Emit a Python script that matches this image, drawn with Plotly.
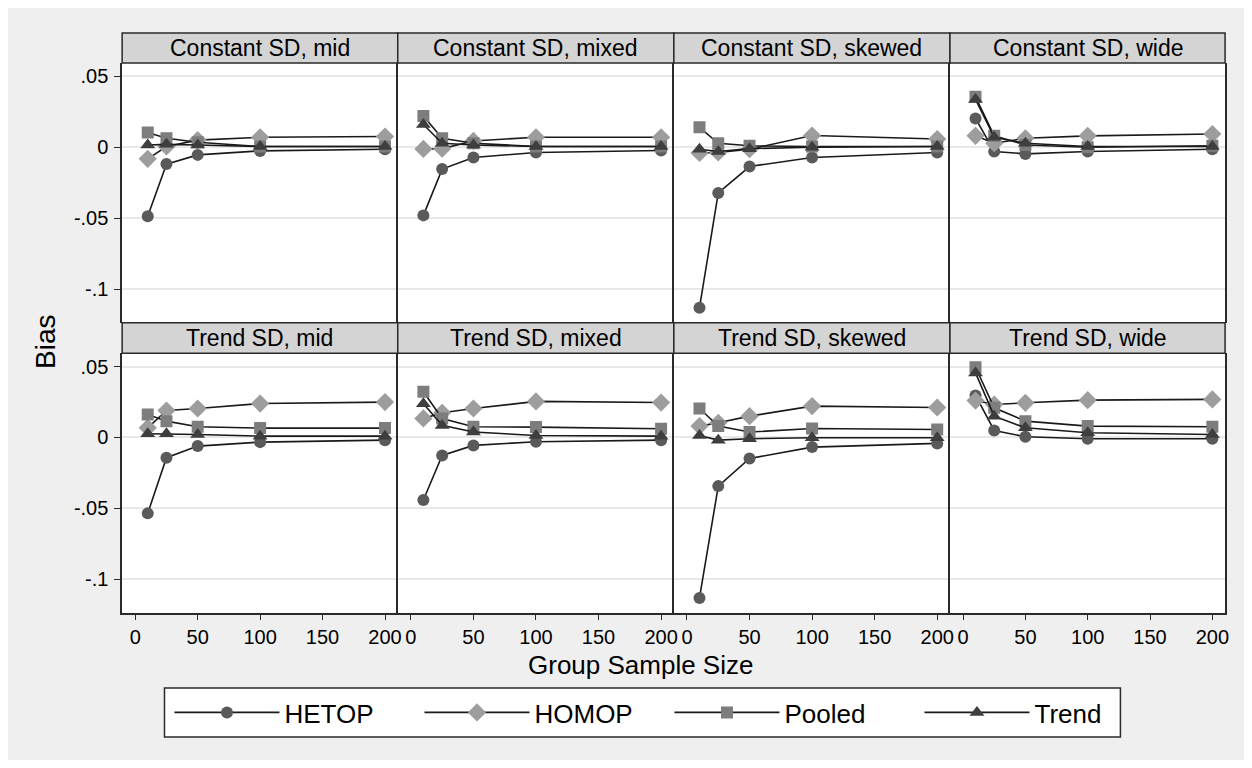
import plotly.graph_objects as go

# figure is placed by the browser at an 8 px page offset
OFF = 8
W, H = 1244, 752

# ---------------- data ----------------
ns = [10, 25, 50, 100, 200]
panels = ["Constant SD, mid", "Constant SD, mixed", "Constant SD, skewed", "Constant SD, wide",
          "Trend SD, mid", "Trend SD, mixed", "Trend SD, skewed", "Trend SD, wide"]
methods = ["HETOP", "HOMOP", "Pooled", "Trend"]

# one row per panel (same order as `panels`), one value per group sample size
hetop = [
    [-0.0486, -0.0119, -0.0054, -0.0026, -0.0014],
    [-0.0480, -0.0154, -0.0072, -0.0037, -0.0023],
    [-0.1130, -0.0322, -0.0136, -0.0072, -0.0037],
    [0.0203, -0.0030, -0.0047, -0.0030, -0.0014],
    [-0.0535, -0.0143, -0.0061, -0.0033, -0.0019],
    [-0.0441, -0.0127, -0.0056, -0.0030, -0.0019],
    [-0.1131, -0.0343, -0.0148, -0.0068, -0.0042],
    [0.0296, 0.0049, 0.0005, -0.0009, -0.0009],
]
homop = [
    [-0.0082, 0.0005, 0.0050, 0.0070, 0.0075],
    [-0.0012, -0.0010, 0.0044, 0.0070, 0.0070],
    [-0.0040, -0.0037, -0.0014, 0.0082, 0.0058],
    [0.0080, 0.0028, 0.0063, 0.0080, 0.0093],
    [0.0068, 0.0190, 0.0204, 0.0239, 0.0249],
    [0.0134, 0.0174, 0.0204, 0.0254, 0.0246],
    [0.0080, 0.0103, 0.0150, 0.0221, 0.0211],
    [0.0260, 0.0232, 0.0244, 0.0263, 0.0268],
]
pooled = [
    [0.0103, 0.0063, 0.0035, 0.0005, 0.0005],
    [0.0220, 0.0063, 0.0028, 0.0005, 0.0005],
    [0.0140, 0.0028, 0.0010, 0.0005, 0.0005],
    [0.0355, 0.0080, 0.0016, 0.0000, 0.0010],
    [0.0162, 0.0115, 0.0075, 0.0066, 0.0066],
    [0.0322, 0.0134, 0.0075, 0.0073, 0.0061],
    [0.0204, 0.0080, 0.0038, 0.0063, 0.0056],
    [0.0495, 0.0209, 0.0115, 0.0080, 0.0075],
]
trend = [
    [0.0016, 0.0020, 0.0016, 0.0005, 0.0005],
    [0.0160, 0.0028, 0.0016, 0.0005, 0.0005],
    [-0.0014, -0.0030, -0.0010, 0.0000, 0.0005],
    [0.0336, 0.0070, 0.0028, 0.0005, 0.0005],
    [0.0026, 0.0026, 0.0021, 0.0009, 0.0009],
    [0.0237, 0.0085, 0.0038, 0.0014, 0.0009],
    [0.0014, -0.0019, -0.0009, -0.0002, -0.0002],
    [0.0455, 0.0150, 0.0068, 0.0033, 0.0021],
]

xticks = [0, 50, 100, 150, 200]
yticks = [-0.1, -0.05, 0, 0.05]
yticktext = ["-.1", "-.05", "0", ".05"]

# ---------------- styles ----------------
series = [
    (methods[0], hetop, "circle", 12, "#5a5a5a"),
    (methods[1], homop, "diamond", 14, "#9d9d9d"),
    (methods[2], pooled, "square", 12, "#7d7d7d"),
    (methods[3], trend, "triangle-up", 13, "#3e3e3e"),
]
FONT = "Liberation Sans, Arial, Helvetica, sans-serif"
LINE = "#1a1a1a"
BORDER = "#2a2a2a"


def px_x(p):
    return (p - OFF) / W


def px_y(p):
    return 1 - (p - OFF) / H


col_edges = [122.5, 399.0, 676.0, 953.0, 1229.0]
row_plot = [(63.0, 322.6), (353.3, 612.7)]
row_head = [(33.0, 63.0), (322.7, 353.3)]

fig = go.Figure()

for name, data, sym, size, color in series:
    for i in range(8):
        ax = "" if i == 0 else str(i + 1)
        fig.add_trace(go.Scatter(
            x=ns, y=data[i], mode="lines+markers",
            xaxis="x" + ax, yaxis="y" + ax,
            name=name, legendgroup=name, showlegend=(i == 0),
            line=dict(color=LINE, width=1.6),
            marker=dict(symbol=sym, size=size, color=color, line=dict(width=0)),
        ))

shapes = []
annotations = []

# legend frame
shapes.append(dict(type="rect", xref="paper", yref="paper", layer="below",
                   x0=px_x(165), x1=px_x(1124), y0=px_y(737), y1=px_y(688),
                   fillcolor="white", line=dict(color=BORDER, width=1.5)))

for i in range(8):
    r, c = divmod(i, 4)
    ax = "" if i == 0 else str(i + 1)
    xd = [px_x(col_edges[c]), px_x(col_edges[c + 1])]
    yd = [px_y(row_plot[r][1]), px_y(row_plot[r][0])]
    xa = dict(domain=xd, range=[-10.5, 210.2], anchor="y" + ax,
              showgrid=False, zeroline=False,
              showline=(r == 1), mirror=False, linecolor=BORDER, linewidth=1.5,
              tickvals=xticks, ticktext=[str(v) for v in xticks],
              tickfont=dict(family=FONT, size=20, color="black"),
              ticks="outside" if r == 1 else "", ticklen=6, tickcolor=BORDER,
              showticklabels=(r == 1), ticklabelstandoff=0)
    ya = dict(domain=yd, range=[-0.1235, 0.0593], anchor="x" + ax,
              showgrid=True, gridcolor="#e8e8e8", gridwidth=1.5, zeroline=False,
              showline=True, mirror=(c == 3), linecolor=BORDER, linewidth=1.5,
              tickvals=yticks, ticktext=yticktext,
              tickfont=dict(family=FONT, size=20, color="black"),
              ticks="outside" if c == 0 else "", ticklen=6, tickcolor=BORDER,
              showticklabels=(c == 0), ticklabelstandoff=2)
    fig.layout["xaxis" + ax] = xa
    fig.layout["yaxis" + ax] = ya

    # header strip
    shapes.append(dict(type="rect", xref="paper", yref="paper",
                       x0=xd[0], x1=xd[1], y0=px_y(row_head[r][1]), y1=px_y(row_head[r][0]),
                       fillcolor="#d4d4d4", line=dict(color=BORDER, width=1.5)))
    annotations.append(dict(text=panels[i], xref="paper", yref="paper",
                            x=(xd[0] + xd[1]) / 2,
                            y=px_y((row_head[r][0] + row_head[r][1]) / 2),
                            xanchor="center", yanchor="middle", showarrow=False,
                            font=dict(family=FONT, size=23, color="black")))

annotations.append(dict(text="Group Sample Size", xref="paper", yref="paper",
                        x=px_x(643), y=px_y(665), xanchor="center", yanchor="middle",
                        showarrow=False, font=dict(family=FONT, size=26, color="black")))
annotations.append(dict(text="Bias", xref="paper", yref="paper",
                        x=px_x(45), y=px_y(342), xanchor="center", yanchor="middle",
                        textangle=-90, showarrow=False,
                        font=dict(family=FONT, size=28, color="black")))

fig.update_layout(
    width=W, height=H,
    margin=dict(l=0, r=0, t=0, b=0),
    paper_bgcolor="#efefef", plot_bgcolor="white",
    shapes=shapes, annotations=annotations,
    font=dict(family=FONT, color="black"),
    legend=dict(orientation="h", x=px_x(170), xanchor="left",
                y=px_y(689), yanchor="top",
                bgcolor="rgba(0,0,0,0)", borderwidth=0,
                font=dict(family=FONT, size=26, color="black"),
                itemwidth=105, entrywidth=130, entrywidthmode="pixels",
                tracegroupgap=0, itemclick=False),
)

fig.write_html("out.html")
